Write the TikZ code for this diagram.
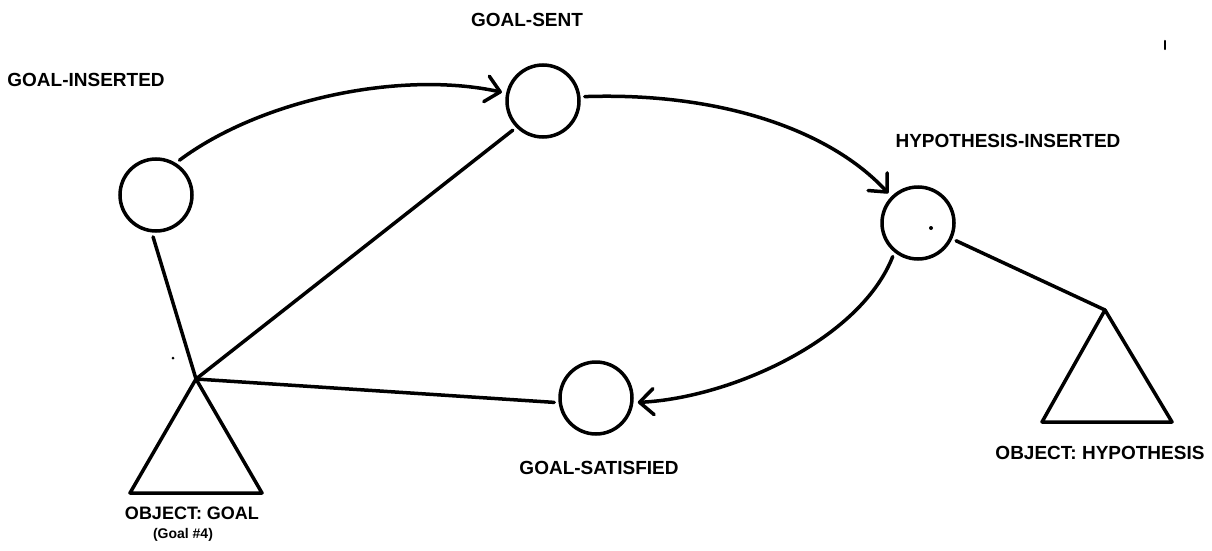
\documentclass[tikz,border=0pt]{standalone}
\usepackage{fontspec}
\setsansfont{Liberation Sans}
\usetikzlibrary{arrows.meta}
\begin{document}
\begin{tikzpicture}[x=1pt,y=-1pt,
  state/.style={circle,draw,line width=3.5pt,minimum size=72pt,inner sep=0pt,outer sep=6pt},
  conn/.style={line width=3.5pt,line cap=round},
  arr/.style={conn,-{Straight Barb[length=14pt,width=26pt,round]}},
  lbl/.style={font=\fontsize{19}{22}\selectfont\sffamily\bfseries,inner sep=0pt},
  tri/.style={line width=3.5pt,line join=round}]
\useasboundingbox (0,0) rectangle (1212,551);
% states
\node[state] (gi) at (156,195) {};
\node[state] (gs) at (543,101) {};
\node[state] (hy) at (918,223) {};
\node[state] (sa) at (596,398) {};
% triangles
\coordinate (ga) at (196,379);
\coordinate (ha) at (1105,310);
\draw[tri] (ga) -- (130,493) -- (262,493) -- cycle;
\draw[tri] (ha) -- (1042,422) -- (1172,422) -- cycle;
% labels
\node[lbl] (lgi) at (86,80) {GOAL-INSERTED};
\node[lbl] (lgs) at (527,20) {GOAL-SENT};
\node[lbl] (lhy) at (1008,141) {HYPOTHESIS-INSERTED};
\node[lbl] (lsa) at (599,468) {GOAL-SATISFIED};
\node[lbl,font=\fontsize{18}{20}\selectfont\sffamily\bfseries] (log) at (192,513) {OBJECT: GOAL};
\node[lbl,font=\fontsize{14}{16}\selectfont\sffamily\bfseries] (lg4) at (183,535) {(Goal \#4)};
\node[lbl] (loh) at (1100,453) {OBJECT: HYPOTHESIS};
% arcs
\draw[arr] (gi.56) .. controls (260,100) and (400,70) .. (gs.168);
\draw[arr] (gs.6) .. controls (720,92) and (830,130) .. (hy.135);
\draw[arr] (hy.233) .. controls (860,340) and (730,398) .. (sa.354);
% links
\draw[conn] (gi.-94) -- (ga);
\draw[conn] (gs.224) -- (ga);
\draw[conn] (ga) -- (sa.186);
\draw[conn] (hy.-25) -- (ha);
% specks
\fill (931,228) circle (2pt);
\fill (173,358) circle (1.5pt);
\draw[conn,line width=2.5pt] (1165,41) -- (1165,49);
\end{tikzpicture}
\end{document}
